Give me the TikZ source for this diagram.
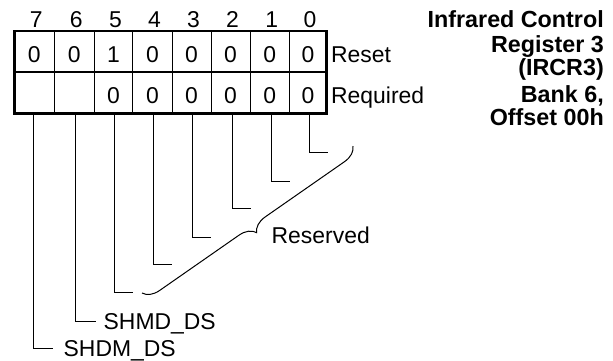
\documentclass[tikz,border=0pt]{standalone}
\usepackage{fontspec}
\setmainfont{Liberation Sans}
\usetikzlibrary{decorations.pathreplacing}
\begin{document}
\begin{tikzpicture}[x=1bp,y=-1bp,
  txt/.style={inner sep=0pt,font=\fontsize{23}{27}\selectfont},
  ttl/.style={inner sep=0pt,anchor=base east,font=\fontsize{23.4}{27}\selectfont\bfseries},
  frame/.style={line width=2.6bp},
  grid/.style={line width=1bp},
  leader/.style={line width=1bp},
  bracestyle/.style={line width=1bp,decorate,decoration={brace,amplitude=16bp}}]
\useasboundingbox (0,0) rectangle (613,360);
% table
\draw[frame] (14.2,31) rectangle (326.7,113.3);
\draw[frame] (14.2,72) -- (326.7,72);
\foreach \xx in {54.3,94,132.7,172,211,250,289.3}
  \draw[grid] (\xx,31) -- (\xx,113.3);
% bit numbers, reset and required values
\foreach \b/\cx/\r in {7/34.2/0,6/74.2/0,5/113.4/1,4/152.4/0,3/191.5/0,2/230.5/0,1/269.7/0,0/308/0} {
  \node[txt,anchor=base] (n\b) at (\cx+2,27) {\b};
  \node[txt,anchor=base] (r\b) at (\cx,62) {\r};
}
\foreach \b/\cx in {5/113.4,4/152.4,3/191.5,2/230.5,1/269.7,0/308}
  \node[txt,anchor=base] (q\b) at (\cx,103) {0};
\node[txt,anchor=base west] (reset) at (331,62) {Reset};
\node[txt,anchor=base west] (required) at (331,103) {Required};
% title
\node[ttl] (t1) at (604,27) {Infrared Control};
\node[ttl] (t2) at (604,52.5) {Register 3};
\node[ttl] (t3) at (604,75) {(IRCR3)};
\node[ttl] (t4) at (604,102) {Bank 6,};
\node[ttl] (t5) at (604,125) {Offset 00h};
% leaders
\foreach \b/\lx/\ly/\ex in {0/309/152/328,1/271/181/290,2/232/208/251,3/192.3/237/211,4/153.3/264/172,5/114.3/292/133,6/75/321/96,7/33.3/348/53} {
  \coordinate (cb\b) at (\lx,113.3);
  \coordinate (le\b) at (\ex,\ly);
  \draw[leader] (cb\b) |- (le\b);
}
% brace and labels
\coordinate (brA) at (353,146);
\coordinate (brB) at (142,293);
\draw[bracestyle] (brA) -- (brB);
\node[txt,anchor=base west] (reserved) at (271.5,243) {Reserved};
\node[txt,anchor=base west] (shmd) at (103.5,329.5) {SHMD\_DS};
\node[txt,anchor=base west] (shdm) at (63.5,356.5) {SHDM\_DS};
\end{tikzpicture}
\end{document}
